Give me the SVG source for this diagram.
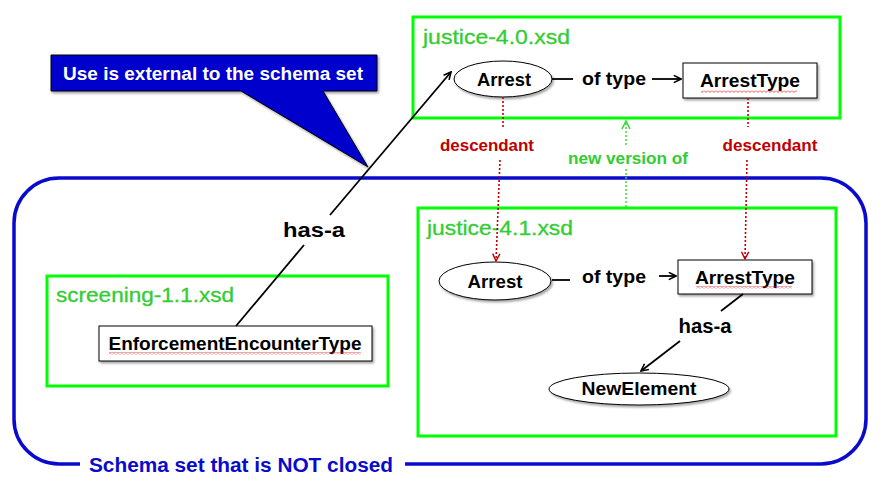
<svg xmlns="http://www.w3.org/2000/svg" width="879" height="483" viewBox="0 0 879 483">
<defs>
<style>
.t{font-family:"Liberation Sans",Arial,sans-serif;font-weight:bold;}
.lbl{font-size:18px;fill:#000;}
.ttl{font-size:21px;fill:#33cc33;font-weight:normal;stroke:#33cc33;stroke-width:0.3;}
.red{font-size:16px;fill:#c00000;}
.grn{font-size:16px;fill:#33cc33;}
.box{fill:none;stroke:#00ff00;stroke-width:3;}
.node{fill:#fff;stroke:#000;stroke-width:1;filter:url(#sh);}
.ln{fill:none;stroke:#000;stroke-width:1.8;}
.dr{fill:none;stroke:#c00000;stroke-width:1.6;stroke-dasharray:2 2;}
.dg{fill:none;stroke:#33dd33;stroke-width:1.4;stroke-dasharray:2 2;}
</style>
<filter id="sh" x="-20%" y="-20%" width="140%" height="150%">
<feDropShadow dx="1.5" dy="2" stdDeviation="1" flood-color="#000" flood-opacity="0.35"/>
</filter>
<pattern id="sq" width="4" height="3" patternUnits="userSpaceOnUse">
<path d="M0 0.5 L2 2.5 L4 0.5" fill="none" stroke="#e02020" stroke-width="0.8"/>
</pattern>
<marker id="ab" viewBox="0 0 10 10" refX="9" refY="5" markerWidth="9" markerHeight="9" markerUnits="userSpaceOnUse" orient="auto">
<path d="M1,1 L9,5 L1,9" fill="none" stroke="#000" stroke-width="1.8"/>
</marker>
<marker id="ar" viewBox="0 0 10 10" refX="9" refY="5" markerWidth="9" markerHeight="9" markerUnits="userSpaceOnUse" orient="auto">
<path d="M1,1 L9,5 L1,9" fill="none" stroke="#c00000" stroke-width="1.6"/>
</marker>
<marker id="ag" viewBox="0 0 10 10" refX="9" refY="5" markerWidth="10" markerHeight="10" markerUnits="userSpaceOnUse" orient="auto">
<path d="M1,1 L9,5 L1,9" fill="none" stroke="#33dd33" stroke-width="1.6"/>
</marker>
</defs>
<rect width="879" height="483" fill="#fff"/>

<g id="schema-set">
<path d="M405 464 H821 A45 45 0 0 0 866 419 V223 A45 45 0 0 0 821 178 H59 A45 45 0 0 0 14 223 V419 A45 45 0 0 0 59 464 H80" fill="none" stroke="#0a0acc" stroke-width="3.5"/>
<text class="t" x="89" y="472" font-size="20" fill="#0a0acc" textLength="304" lengthAdjust="spacingAndGlyphs">Schema set that is NOT closed</text>
</g>

<g id="callout">
<path d="M51 55 H377 V91 H323 L368 167 L241 91 H51 Z" fill="#0000cc" stroke="#000" stroke-width="1" filter="url(#sh)"/>
<text class="t" x="63" y="80" font-size="18" fill="#fff" textLength="300" lengthAdjust="spacingAndGlyphs">Use is external to the schema set</text>
</g>

<g id="justice-4.0">
<rect class="box" x="413" y="17" width="427" height="101"/>
<text class="t ttl" x="423" y="44" textLength="147" lengthAdjust="spacingAndGlyphs">justice-4.0.xsd</text>
</g>
<g id="arrest-40">
<ellipse class="node" cx="503" cy="79" rx="49" ry="18"/>
<text class="t lbl" x="504" y="86" text-anchor="middle" textLength="54" lengthAdjust="spacingAndGlyphs">Arrest</text>
</g>
<g id="arresttype-40">
<rect class="node" x="683" y="63" width="134" height="35"/>
<text class="t lbl" x="750" y="87" text-anchor="middle" textLength="100" lengthAdjust="spacingAndGlyphs">ArrestType</text>
<rect x="701" y="90" width="96" height="3" fill="url(#sq)"/>
</g>

<g id="justice-4.1">
<rect class="box" x="418" y="208" width="418" height="228"/>
<text class="t ttl" x="427" y="235" textLength="146" lengthAdjust="spacingAndGlyphs">justice-4.1.xsd</text>
</g>
<g id="arrest-41">
<ellipse class="node" cx="495" cy="281" rx="56" ry="19"/>
<text class="t lbl" x="495" y="288" text-anchor="middle" textLength="55" lengthAdjust="spacingAndGlyphs">Arrest</text>
</g>
<g id="arresttype-41">
<rect class="node" x="678" y="260" width="134" height="34"/>
<text class="t lbl" x="745" y="284" text-anchor="middle" textLength="100" lengthAdjust="spacingAndGlyphs">ArrestType</text>
<rect x="696" y="286" width="96" height="3" fill="url(#sq)"/>
</g>
<g id="newelement">
<ellipse class="node" cx="639" cy="389" rx="90" ry="16"/>
<text class="t lbl" x="639" y="395" text-anchor="middle" textLength="115" lengthAdjust="spacingAndGlyphs">NewElement</text>
</g>

<g id="screening-1.1">
<rect class="box" x="47" y="276" width="341" height="110"/>
<text class="t ttl" x="56" y="302" textLength="178" lengthAdjust="spacingAndGlyphs">screening-1.1.xsd</text>
</g>
<g id="enforcementencountertype">
<rect class="node" x="99" y="326" width="273" height="35"/>
<text class="t lbl" x="235" y="350" text-anchor="middle" textLength="253" lengthAdjust="spacingAndGlyphs">EnforcementEncounterType</text>
<rect x="109" y="352" width="252" height="3" fill="url(#sq)"/>
</g>

<g id="connectors">
<line class="ln" x1="236" y1="326" x2="304" y2="245"/>
<line class="ln" x1="330" y1="215" x2="451" y2="72" marker-end="url(#ab)"/>
<text class="t" x="314" y="237" font-size="20" text-anchor="middle" textLength="62" lengthAdjust="spacingAndGlyphs">has-a</text>
<line class="ln" x1="552" y1="79" x2="573" y2="79"/>
<line class="ln" x1="652" y1="79" x2="681" y2="79" marker-end="url(#ab)"/>
<text class="t lbl" x="614" y="85" text-anchor="middle" textLength="64" lengthAdjust="spacingAndGlyphs">of type</text>
<line class="ln" x1="552" y1="280" x2="570" y2="280"/>
<line class="ln" x1="659" y1="276" x2="676" y2="276" marker-end="url(#ab)"/>
<text class="t lbl" x="614" y="283" text-anchor="middle" textLength="64" lengthAdjust="spacingAndGlyphs">of type</text>
<line class="ln" x1="743" y1="294" x2="721" y2="311"/>
<line class="ln" x1="680" y1="341" x2="641" y2="371" marker-end="url(#ab)"/>
<text class="t" x="705" y="333" font-size="20" text-anchor="middle" textLength="53" lengthAdjust="spacingAndGlyphs">has-a</text>
<line class="dr" x1="503" y1="97" x2="503" y2="127"/>
<line class="dr" x1="500" y1="160" x2="496" y2="261" marker-end="url(#ar)"/>
<text class="t red" x="487" y="151" text-anchor="middle" textLength="94" lengthAdjust="spacingAndGlyphs">descendant</text>
<line class="dr" x1="748" y1="98" x2="748" y2="127"/>
<line class="dr" x1="747" y1="160" x2="745" y2="259" marker-end="url(#ar)"/>
<text class="t red" x="770" y="151" text-anchor="middle" textLength="95" lengthAdjust="spacingAndGlyphs">descendant</text>
<line class="dg" x1="626" y1="207" x2="626" y2="168"/>
<line class="dg" x1="626" y1="145" x2="626" y2="121" marker-end="url(#ag)"/>
<text class="t grn" x="628" y="164" text-anchor="middle" textLength="120" lengthAdjust="spacingAndGlyphs">new version of</text>
</g>
</svg>
